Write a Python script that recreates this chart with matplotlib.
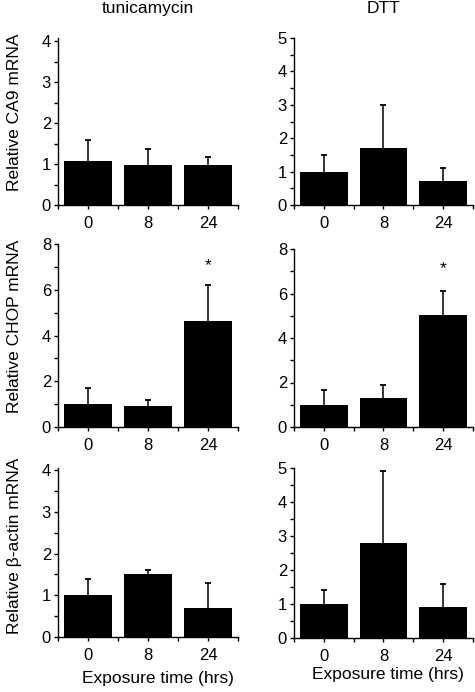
import matplotlib
matplotlib.use("Agg")
import matplotlib.pyplot as plt
from matplotlib.ticker import MultipleLocator

plt.rcParams['font.family'] = ['Liberation Sans', 'DejaVu Sans']

times = ["0", "8", "24"]
treatments = ["tunicamycin", "DTT"]
genes = ["CA9", "CHOP", "\u03b2-actin"]

# means and upper error (SD)
ca9_tun = [1.08, 0.98, 0.98]
ca9_tun_err = [0.5, 0.4, 0.2]
ca9_dtt = [1.0, 1.7, 0.72]
ca9_dtt_err = [0.5, 1.3, 0.38]

chop_tun = [1.0, 0.9, 4.62]
chop_tun_err = [0.7, 0.3, 1.6]
chop_dtt = [1.0, 1.3, 5.02]
chop_dtt_err = [0.68, 0.6, 1.1]

actin_tun = [1.0, 1.5, 0.7]
actin_tun_err = [0.4, 0.1, 0.6]
actin_dtt = [1.0, 2.8, 0.9]
actin_dtt_err = [0.4, 2.1, 0.7]

star_tun = [None, None, 7.05]
star_dtt = [None, None, 7.1]

W, H = 475, 692
fig = plt.figure(figsize=(W / 100, H / 100), dpi=100)


def px_axes(x0, x1, y0, y1):
    return fig.add_axes([x0 / W, 1 - y1 / H, (x1 - x0) / W, (y1 - y0) / H])


panels = [
    # (data, err, stars, ymax, major, minor, box)
    (ca9_tun, ca9_tun_err, None, 4.08, 1, 0.5, (58, 238, 38, 205)),
    (ca9_dtt, ca9_dtt_err, None, 5.0, 1, 0.5, (294, 473, 38, 205)),
    (chop_tun, chop_tun_err, star_tun, 8.0, 2, 1, (58, 238, 244, 427)),
    (chop_dtt, chop_dtt_err, star_dtt, 8.0, 2, 1, (294, 473, 249, 427)),
    (actin_tun, actin_tun_err, None, 4.05, 1, 0.5, (58, 238, 468, 637)),
    (actin_dtt, actin_dtt_err, None, 5.0, 1, 0.5, (294, 473, 468, 638)),
]

xs = list(range(len(times)))
for vals, errs, stars, ymax, major, minor, box in panels:
    ax = px_axes(*box)
    ax.bar(xs, vals, width=0.8, color='black', edgecolor='none', zorder=2)
    # upper whisker only, with a small cap at the top
    tops = [v + e for v, e in zip(vals, errs)]
    ax.vlines(xs, vals, tops, color='black', linewidth=1.1, zorder=3)
    ax.plot(xs, tops, ls='none', marker='_', markersize=4.5,
            markeredgewidth=1.3, color='black', zorder=3)
    if stars:
        for x, s in zip(xs, stars):
            if s is not None:
                ax.text(x, s, "*", ha='center', va='center', fontsize=12.5)
    ax.set_xlim(-0.5, 2.5)
    ax.set_ylim(0, ymax)
    ax.yaxis.set_major_locator(MultipleLocator(major))
    ax.yaxis.set_minor_locator(MultipleLocator(minor))
    ax.set_xticks(xs)
    ax.set_xticklabels(times)
    ax.set_xticks([-0.5, 0.5, 1.5, 2.5], minor=True)
    for s in ['top', 'right']:
        ax.spines[s].set_visible(False)
    for s in ['left', 'bottom']:
        ax.spines[s].set_linewidth(1.0)
    ax.tick_params(which='both', direction='out', length=3, width=1.0,
                   labelsize=12, colors='black')
    ax.tick_params(axis='y', which='both', pad=2)
    ax.tick_params(axis='x', which='both', pad=5)

# column titles
fig.text(148 / W, 1 - 13 / H, treatments[0], ha='center', va='baseline', fontsize=12.5)
fig.text(384 / W, 1 - 13 / H, treatments[1], ha='center', va='baseline', fontsize=12.5)

# row labels
for g, yc in zip(genes, [112, 326, 546]):
    fig.text(15 / W, 1 - yc / H, "Relative " + g + " mRNA", rotation=90,
             ha='center', va='center', fontsize=12.5)

# x labels
fig.text(158 / W, 1 - 678 / H, "Exposure time (hrs)", ha='center', va='center', fontsize=12.5)
fig.text(388 / W, 1 - 675 / H, "Exposure time (hrs)", ha='center', va='center', fontsize=12.5)

fig.savefig("out.png", dpi=100)
